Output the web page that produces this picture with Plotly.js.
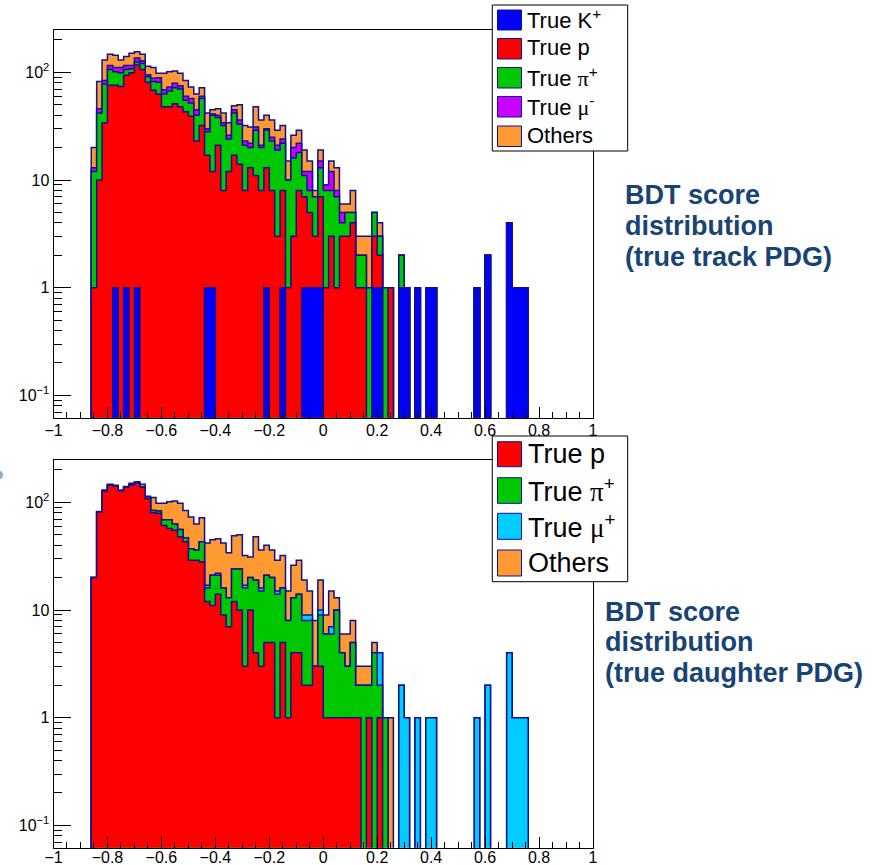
<!DOCTYPE html>
<html>
<head>
<meta charset="utf-8">
<script src="https://cdn.plot.ly/plotly-3.0.1.min.js"></script>
<style>
  html, body { margin: 0; padding: 0; background: #ffffff; }
  #chart { width: 877px; height: 865px; }
</style>
</head>
<body>
<div id="chart"></div>
<script>
// ---------------- DATA ----------------
// left edges of the histogram bins (BDT score)
const xEdges = [
  -0.86,-0.84,-0.82,-0.80,-0.78,-0.76,-0.74,-0.72,-0.70,-0.68,
  -0.66,-0.64,-0.62,-0.60,-0.58,-0.56,-0.54,-0.52,-0.50,-0.48,
  -0.46,-0.44,-0.42,-0.40,-0.38,-0.36,-0.34,-0.32,-0.30,-0.28,
  -0.26,-0.24,-0.22,-0.20,-0.18,-0.16,-0.14,-0.12,-0.10,-0.08,
  -0.06,-0.04,-0.02,0.00,0.02,0.04,0.06,0.08,0.10,0.12,
  0.14,0.16,0.18,0.20,0.22,0.24,0.26,0.28,0.30,0.32,
  0.34,0.36,0.38,0.40,0.42,0.44,0.46,0.48,0.50,0.52,
  0.54,0.56,0.58,0.60,0.62,0.64,0.66,0.68,0.70,0.72,
  0.74];
const binWidth = 0.02;

// Top panel: true track PDG (stack order bottom -> top)
const trackLabels = ['True K<sup>+</sup>', 'True p', 'True π<sup>+</sup>', 'True μ<sup>-</sup>', 'Others'];
const trackK = [
  0,0,0,0,1,0,1,0,1,0, 0,0,0,0,0,0,0,0,0,0, 0,1,1,0,0,0,0,0,0,0,
  0,0,1,0,0,1,0,0,0,1, 1,1,1,0,0,0,0,0,0,0, 0,0,1,1,0,0,0,1,1,0,
  1,0,1,1,0,0,0,0,0,0, 0,1,0,2,0,0,0,4,1,1, 1];
const trackP = [
  1,10,34,76,75,74,93,99,116,106, 81,68,63,48,48,51,48,43,39,23,
  32,16,11,21,8,12,17,14,8,13, 11,8,12,8,3,7,1,3,8,6,
  4,2,6,1,3,1,3,3,4,1, 1,0,2,1,0,1,0,0,0,0,
  0,0,0,0,0,0,0,0,0,0, 0,0,0,0,0,0,0,0,0,0, 0];
const trackPi = [
  11,32,44,30,25,25,12,9,8,15, 10,14,18,15,19,21,22,12,13,17,
  25,11,28,17,24,12,25,19,13,7, 18,12,16,15,16,14,9,13,10,4,
  3,4,6,7,5,6,1,2,1,1, 1,1,2,1,1,0,0,1,0,0,
  0,0,0,0,0,0,0,0,0,0, 0,0,0,0,0,0,0,0,0,0, 0];
const trackMu = [
  1,4,6,10,10,12,10,8,11,7, 4,6,8,6,6,7,5,5,5,5,
  3,2,1,2,2,2,3,3,2,2, 2,1,1,2,2,2,0,4,4,1,
  4,0,2,1,4,1,1,0,0,0, 0,0,0,0,0,0,0,0,0,0,
  0,0,0,0,0,0,0,0,0,0, 0,0,0,0,0,0,0,0,0,0, 0];
const trackOther = [
  7,36,46,31,33,19,24,34,19,19, 19,23,9,29,28,24,23,24,16,18,
  12,12,4,6,8,8,4,14,9,9, 17,15,10,11,8,8,5,6,7,7,
  3,1,4,0,3,5,1,1,3,1, 1,2,0,1,0,0,0,0,0,0,
  0,0,0,0,0,0,0,0,0,0, 0,0,0,0,0,0,0,0,0,0, 0];

// Bottom panel: true daughter PDG (stack order bottom -> top)
const dauLabels = ['True p', 'True π<sup>+</sup>', 'True μ<sup>+</sup>', 'Others'];
const dauP = [
  20,81,127,145,142,128,138,145,150,138, 108,80,79,61,57,55,48,43,29,29,
  28,12,11,14,9,7,12,10,3,10, 4,3,5,5,1,5,1,4,4,2,
  2,3,3,1,1,1,1,1,1,1, 0,1,0,1,0,0,0,0,0,0,
  0,0,0,0,0,0,0,0,0,0, 0,0,0,0,0,0,0,0,0,0, 0];
const dauPi = [
  0,0,0,0,0,0,0,0,0,1, 1,4,4,8,12,8,8,4,8,7,
  15,4,10,7,7,6,12,14,13,10, 15,12,16,15,13,11,7,9,10,6,
  6,0,6,5,5,9,3,2,4,1, 2,1,4,1,1,0,0,0,0,0,
  0,0,0,0,0,0,0,0,0,0, 0,0,0,0,0,0,0,0,0,0, 0];
const dauMu = [
  0,0,0,0,0,0,0,0,0,0, 0,0,0,0,0,0,0,0,0,0,
  0,1,0,1,0,0,0,0,1,0, 0,1,0,0,1,0,0,0,0,1,
  1,0,1,0,1,0,0,0,0,0, 0,0,0,2,0,0,0,2,1,0,
  1,0,1,1,0,0,0,0,0,0, 0,1,0,2,0,0,0,4,1,1, 1];
const dauOther = [
  0,1,3,2,2,2,2,5,5,8, 5,27,15,29,32,40,42,37,36,27,
  29,25,24,24,26,21,25,26,15,11, 29,20,19,16,14,16,7,13,15,10,
  6,5,9,3,8,3,2,3,3,1, 1,1,1,0,0,1,0,0,0,0,
  0,0,0,0,0,0,0,0,0,0, 0,0,0,0,0,0,0,0,0,0, 0];

const yTickVals = [0.1, 1, 10, 100];
const yTickText = ['10<sup>−1</sup>', '1', '10', '10<sup>2</sup>'];

// ---------------- STYLE ----------------
const W = 877, H = 865;
const outline = '#101090';
const colTrack = ['#0000ff', '#ff0000', '#00c800', '#cc00ff', '#ff9933'];
const colDau = ['#ff0000', '#00c800', '#00ccff', '#ff9933'];
const fx = p => p / W;
const fy = p => 1 - p / H;

function stepTrace(vals, fill, xa, ya) {
  const floor = 1e-3;
  const n = vals.length;
  const xs = [xEdges[0]], ys = [floor];
  for (let i = 0; i < n; i++) {
    xs.push(xEdges[i]);
    ys.push(vals[i] > 0 ? vals[i] : floor);
  }
  const end = xEdges[n - 1] + binWidth;
  xs.push(end); ys.push(vals[n - 1] > 0 ? vals[n - 1] : floor);
  xs.push(end); ys.push(floor);
  return {
    type: 'scatter', mode: 'lines', x: xs, y: ys, xaxis: xa, yaxis: ya,
    line: { shape: 'hv', color: outline, width: 1.5 },
    fill: 'toself', fillcolor: fill, hoverinfo: 'skip', showlegend: false
  };
}

function stack(series, colors, xa, ya) {
  const cum = [];
  series.forEach((s, j) => {
    cum.push(s.map((v, i) => v + (j > 0 ? cum[j - 1][i] : 0)));
  });
  const traces = [];
  for (let j = series.length - 1; j >= 0; j--) {
    traces.push(stepTrace(cum[j], colors[j], xa, ya));
  }
  return traces;
}

const data = [].concat(
  stack([trackK, trackP, trackPi, trackMu, trackOther], colTrack, 'x', 'y'),
  stack([dauP, dauPi, dauMu, dauOther], colDau, 'x2', 'y2')
);

const tickFont = { family: 'Liberation Sans, Arial, sans-serif', size: 16, color: '#000' };
const xDomain = [fx(53.5), fx(593)];

function xAxis(anchor, standoff) {
  return {
    domain: xDomain, anchor: anchor, range: [-1, 1],
    tickmode: 'linear', tick0: -1, dtick: 0.2,
    ticks: 'inside', ticklen: 11, tickwidth: 1, tickcolor: '#000',
    minor: { tick0: -1, dtick: 0.05, ticks: 'inside', ticklen: 6, tickwidth: 1, tickcolor: '#000' },
    showline: true, mirror: true, linecolor: '#000', linewidth: 1,
    showgrid: false, zeroline: false, tickfont: tickFont,
    ticklabelstandoff: standoff
  };
}
const minorLog = [];
[0.01, 0.1, 1, 10, 100].forEach(d => { for (let m = 2; m <= 9; m++) minorLog.push(d * m); });
function yAxis(domain, anchor) {
  return {
    type: 'log', domain: domain, anchor: anchor, range: [-1.207, 2.393],
    tickmode: 'array', tickvals: yTickVals, ticktext: yTickText,
    ticks: 'inside', ticklen: 17, tickwidth: 1, tickcolor: '#000',
    minor: { tickmode: 'array', tickvals: minorLog, ticks: 'inside', ticklen: 8, tickwidth: 1, tickcolor: '#000' },
    showline: true, mirror: true, linecolor: '#000', linewidth: 1,
    showgrid: false, zeroline: false, tickfont: tickFont
  };
}

const shapes = [];
const annotations = [];

function rectPx(x0, y0, x1, y1, fill, line, lw) {
  shapes.push({ type: 'rect', xref: 'paper', yref: 'paper',
    x0: fx(x0), x1: fx(x1), y0: fy(y1), y1: fy(y0),
    fillcolor: fill, line: { color: line, width: lw }, layer: 'above' });
}
function textPx(x, y, txt, size, opts) {
  annotations.push(Object.assign({
    xref: 'paper', yref: 'paper', x: fx(x), y: fy(y), text: txt,
    showarrow: false, xanchor: 'left', yanchor: 'middle',
    font: { family: 'Liberation Sans, Arial, sans-serif', size: size, color: '#000' }
  }, opts || {}));
}
function greek(label) {
  return label.replace(/([πμ])/g, "<span style=\"font-family:'Liberation Serif','Times New Roman',serif\">$1</span>");
}

// Top legend
rectPx(492.3, 5, 627.7, 151, '#ffffff', '#000', 1);
const topRows = [[10, 30], [38.5, 59], [67.5, 88], [96.5, 117], [126, 146.5]];
trackLabels.forEach((lab, i) => {
  rectPx(497.5, topRows[i][0], 521.5, topRows[i][1], colTrack[i], outline, 1);
  textPx(525, (topRows[i][0] + topRows[i][1]) / 2 - 1, greek(lab), 22);
});
// Bottom legend
rectPx(492.3, 436, 627.7, 581.7, '#ffffff', '#000', 1);
const botRows = [[441.7, 466.7], [477.7, 503.3], [513.3, 539.3], [550, 576]];
dauLabels.forEach((lab, i) => {
  rectPx(497.5, botRows[i][0], 521.5, botRows[i][1], colDau[i], outline, 1);
  textPx(525.5, (botRows[i][0] + botRows[i][1]) / 2, greek(lab), 27);
});

// Side captions
const capColor = '#184474';
const capFont = { family: 'Liberation Sans, Arial, sans-serif', size: 27, color: capColor };
[['<b>BDT score</b>', 195], ['<b>distribution</b>', 226], ['<b>(true track PDG)</b>', 257]].forEach(t => {
  textPx(623, t[1], t[0], 27, { font: capFont });
});
[['<b>BDT score</b>', 612], ['<b>distribution</b>', 642], ['<b>(true daughter PDG)</b>', 673]].forEach(t => {
  textPx(603, t[1], t[0], 27, { font: capFont });
});

// small partial mark at the left edge
shapes.push({ type: 'circle', xref: 'paper', yref: 'paper',
  x0: fx(-4), x1: fx(3), y0: fy(479), y1: fy(471),
  fillcolor: '#8db0d6', line: { width: 0 }, layer: 'above' });

const layout = {
  width: W, height: H,
  margin: { l: 0, r: 0, t: 0, b: 0 },
  paper_bgcolor: '#ffffff', plot_bgcolor: '#ffffff',
  showlegend: false, hovermode: false,
  xaxis: xAxis('y', -2),
  yaxis: yAxis([fy(417.7), fy(30)], 'x'),
  xaxis2: xAxis('y2', -5),
  yaxis2: yAxis([fy(847.7), fy(460)], 'x2'),
  shapes: shapes, annotations: annotations
};

Plotly.newPlot('chart', data, layout, { displayModeBar: false, staticPlot: true });
</script>
</body>
</html>
